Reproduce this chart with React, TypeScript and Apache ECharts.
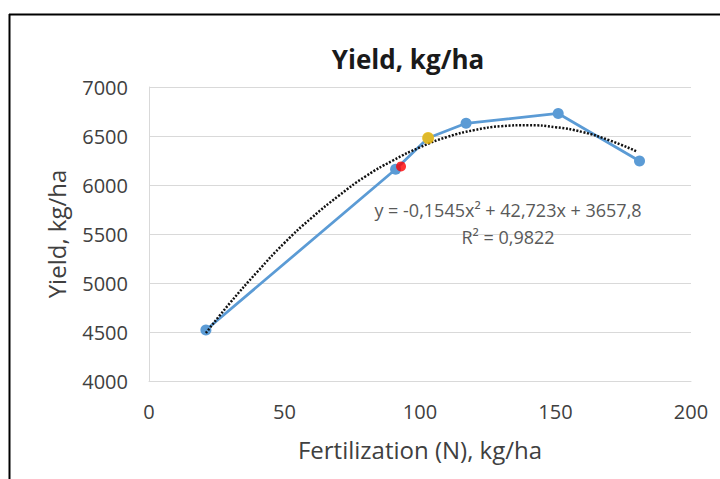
import React, { useEffect, useRef } from "react";
import * as echarts from "echarts";

const fertilization = [21, 91, 103, 117, 151, 181];
const yieldValues = [4520, 6160, 6480, 6630, 6730, 6245];
const redPoint = [93, 6190];
const yellowPoint = [103, 6480];

// Polynomial trendline
const trendX = [21, 30, 40, 50, 60, 70, 80, 90, 100, 110, 120, 130, 140, 150, 160, 170, 180];
const trendY = [4490, 4800, 5115, 5410, 5665, 5890, 6090, 6250, 6385, 6490, 6560, 6600, 6610, 6590, 6540, 6455, 6342];

const xTicks = { min: 0, max: 200, interval: 50 };
const yTicks = { min: 4000, max: 7000, interval: 500 };

const titleText = "Yield, kg/ha";
const xAxisTitle = "Fertilization (N), kg/ha";
const yAxisTitle = "Yield, kg/ha";
const equationLines = ["y = -0,1545x² + 42,723x + 3657,8", "R² = 0,9822"];

const FONT = "'Open Sans', 'Noto Sans', sans-serif";

export default function App() {
  const ref = useRef<HTMLDivElement>(null);

  useEffect(() => {
    if (!ref.current) return;
    const chart = echarts.init(ref.current, undefined, { renderer: "svg" });
    const observed = fertilization.map((x, i) => [x, yieldValues[i]]);
    const trend = trendX.map((x, i) => [x, trendY[i]]);

    chart.setOption({
      animation: false,
      backgroundColor: "#ffffff",
      textStyle: { fontFamily: FONT },
      title: {
        text: titleText,
        left: 408,
        top: 46,
        textAlign: "center",
        padding: 0,
        textStyle: { fontFamily: FONT, fontSize: 26, fontWeight: "bold", color: "#1a1a1a" },
      },
      grid: { left: 149, right: 29, top: 87, bottom: 98, containLabel: false },
      xAxis: {
        type: "value",
        min: xTicks.min,
        max: xTicks.max,
        interval: xTicks.interval,
        name: xAxisTitle,
        nameLocation: "middle",
        nameGap: 56,
        nameTextStyle: { fontFamily: FONT, fontSize: 24, color: "#404040" },
        axisLine: { show: true, lineStyle: { color: "#d9d9d9", width: 1 } },
        axisTick: { show: false },
        splitLine: { show: false },
        axisLabel: {
          fontFamily: FONT,
          fontSize: 20,
          color: "#404040",
          margin: 20,
          formatter: (v: number) => String(v),
        },
      },
      yAxis: {
        type: "value",
        min: yTicks.min,
        max: yTicks.max,
        interval: yTicks.interval,
        name: yAxisTitle,
        nameLocation: "middle",
        nameGap: 81,
        nameRotate: 90,
        nameTextStyle: { fontFamily: FONT, fontSize: 24, color: "#404040" },
        axisLine: { show: true, lineStyle: { color: "#d9d9d9", width: 1 } },
        axisTick: { show: false },
        splitLine: { show: true, lineStyle: { color: "#d9d9d9", width: 1 } },
        axisLabel: {
          fontFamily: FONT,
          fontSize: 20,
          color: "#404040",
          margin: 21,
          formatter: (v: number) => String(v),
        },
      },
      graphic: [
        {
          type: "line",
          shape: { x1: 9, y1: 14.5, x2: 720, y2: 14.5 },
          style: { stroke: "#000000", lineWidth: 2 },
          z: 100,
        },
        {
          type: "line",
          shape: { x1: 9.5, y1: 14, x2: 9.5, y2: 479 },
          style: { stroke: "#000000", lineWidth: 2 },
          z: 100,
        },
        {
          type: "text",
          x: 508,
          y: 223,
          style: {
            text: equationLines.join("\n"),
            fontFamily: FONT,
            fontSize: 18,
            lineHeight: 27,
            fill: "#595959",
            align: "center",
            verticalAlign: "middle",
          },
          z: 50,
        },
      ],
      series: [
        {
          name: "Yield",
          type: "line",
          data: observed,
          symbol: "circle",
          symbolSize: 11,
          lineStyle: { color: "#5b9bd5", width: 2.75 },
          itemStyle: { color: "#5b9bd5" },
          z: 2,
        },
        {
          name: "Trend",
          type: "line",
          data: trend,
          smooth: true,
          showSymbol: false,
          symbol: "none",
          lineStyle: { color: "#111111", width: 2.5, type: [2, 1.6] },
          z: 3,
        },
        {
          name: "Red",
          type: "scatter",
          data: [redPoint],
          symbol: "circle",
          symbolSize: 10,
          itemStyle: { color: "#ff0000" },
          z: 4,
        },
        {
          name: "Yellow",
          type: "scatter",
          data: [yellowPoint],
          symbol: "circle",
          symbolSize: 12,
          itemStyle: { color: "#ffc000" },
          z: 4,
        },
      ],
    });

    return () => chart.dispose();
  }, []);

  return (
    <div
      ref={ref}
      style={{ position: "absolute", left: 0, top: 0, width: 720, height: 479 }}
    />
  );
}
